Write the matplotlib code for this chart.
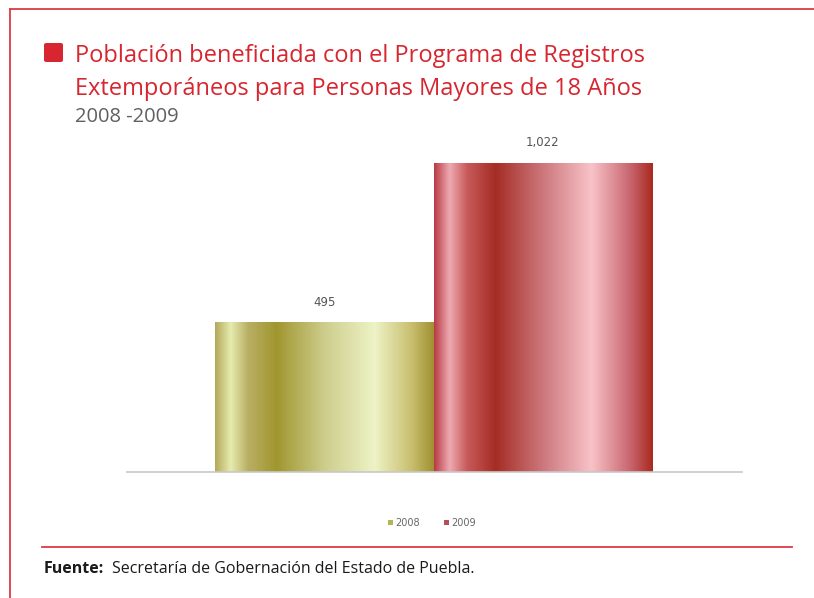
import matplotlib.pyplot as plt
import numpy as np
from matplotlib.colors import LinearSegmentedColormap
from matplotlib.patches import FancyBboxPatch
from matplotlib.lines import Line2D

years = ["2008", "2009"]
beneficiados = [495, 1022]
labels = ["495", "1,022"]

RED = "#d7262f"
GREY = "#5f6062"

# cylinder-like shading stops for each bar
stops = {
    "2008": [(0.0, "#b4aa5a"), (0.07, "#e6ebaf"), (0.15, "#b9af64"), (0.28, "#a0962f"),
             (0.5, "#cdcd8c"), (0.73, "#eef3c6"), (0.9, "#c8be6e"), (1.0, "#a09132")],
    "2009": [(0.0, "#b93c46"), (0.07, "#eeaab2"), (0.15, "#c85a5a"), (0.28, "#a52d25"),
             (0.5, "#cd787d"), (0.72, "#f8c3c8"), (0.9, "#c8646e"), (1.0, "#aa2a20")],
}
legend_colors = {"2008": "#b4b450", "2009": "#b4505a"}

fig = plt.figure(figsize=(8.14, 5.98), dpi=100)

# red frame lines
fig.add_artist(Line2D([10 / 814, 1.0], [1 - 9 / 598, 1 - 9 / 598], color="#dc3c46", lw=1.3))
fig.add_artist(Line2D([10 / 814, 10 / 814], [0, 1 - 9 / 598], color="#dc3c46", lw=1.3))

# title block
fig.add_artist(FancyBboxPatch((44 / 814, 1 - 62 / 598), 19 / 814, 19 / 598,
                              boxstyle="round,pad=0,rounding_size=0.003",
                              transform=fig.transFigure, color=RED, lw=0))
fig.text(75 / 814, 1 - 62 / 598, "Población beneficiada con el Programa de Registros",
         color=RED, fontsize=17, family="Open Sans", va="baseline")
fig.text(75 / 814, 1 - 95 / 598, "Extemporáneos para Personas Mayores de 18 Años",
         color=RED, fontsize=17, family="Open Sans", va="baseline")
fig.text(75 / 814, 1 - 122 / 598, "2008 -2009", color=GREY, fontsize=14.5,
         family="Open Sans", va="baseline")

# chart
ax = fig.add_axes([127 / 814, 126 / 598, 615 / 814, 342 / 598])
x = np.arange(len(years))
bars = ax.bar(x, beneficiados, width=1.0,
              color=[legend_colors[y] for y in years], label=years, zorder=1)

for bar, year, lab in zip(bars, years, labels):
    cmap = LinearSegmentedColormap.from_list(year, stops[year])
    grad = np.linspace(0, 1, 256).reshape(1, -1)
    x0 = bar.get_x()
    w = bar.get_width()
    h = bar.get_height()
    im = ax.imshow(grad, cmap=cmap, aspect="auto", extent=(x0, x0 + w, 0, h),
                   interpolation="bicubic", zorder=2)
    im.set_clip_path(bar)
    ax.text(x0 + w / 2, h + 45, lab, ha="center", va="bottom", fontsize=8.5,
            color="#555555", family="DejaVu Sans")

ax.set_xlim(-0.904, 1.913)
ax.set_ylim(0, 1131)
for s in ["top", "right", "left"]:
    ax.spines[s].set_visible(False)
ax.spines["bottom"].set_color("#c8c8c8")
ax.spines["bottom"].set_linewidth(1.2)
ax.set_xticks([])
ax.set_yticks([])

leg = fig.legend(handles=list(bars), labels=years, loc="center",
                 bbox_to_anchor=(432 / 814, 1 - 523 / 598), ncol=2, frameon=False,
                 fontsize=7, handlelength=0.5, handleheight=0.5, handletextpad=0.2,
                 columnspacing=2.5)
for t in leg.get_texts():
    t.set_color("#666666")

# footer
fig.add_artist(Line2D([42 / 814, 792 / 814], [1 - 547 / 598, 1 - 547 / 598],
                      color="#dc3c46", lw=1.3))
fig.text(44 / 814, 1 - 573 / 598, "Fuente:", fontsize=11.5, fontweight="bold",
         family="Open Sans", color="#1a1a1a", va="baseline")
fig.text(112 / 814, 1 - 573 / 598, "Secretaría de Gobernación del Estado de Puebla.",
         fontsize=11.5, family="Open Sans", color="#1a1a1a", va="baseline")

fig.savefig("out.png", dpi=100)
